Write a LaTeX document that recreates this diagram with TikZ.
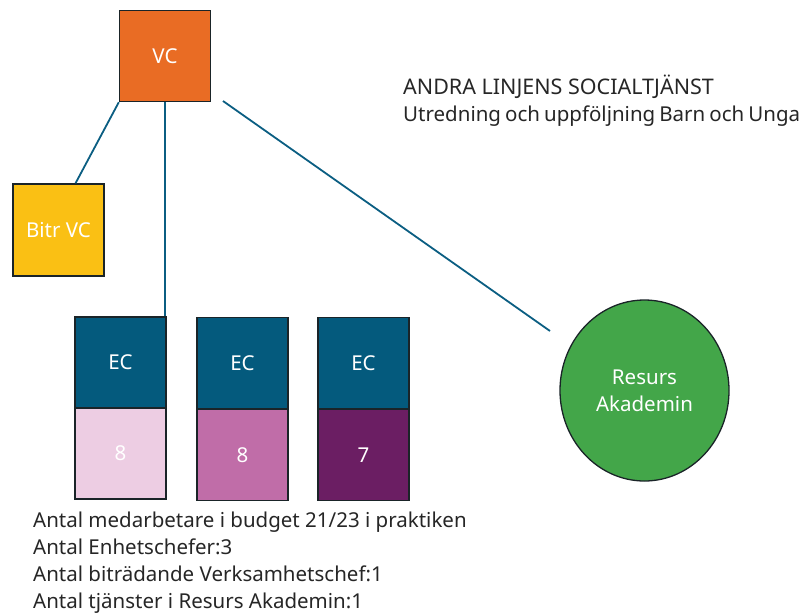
\documentclass[tikz,border=0pt]{standalone}
\usepackage{fontspec}
\setmainfont{Noto Sans}
\usepackage{tikz}
\usetikzlibrary{shapes.geometric}

\definecolor{vcorange}{HTML}{E96C24}
\definecolor{bitryellow}{HTML}{FAC014}
\definecolor{ecblue}{HTML}{045A7D}
\definecolor{linkblue}{HTML}{0B5E82}
\definecolor{edgedark}{HTML}{1A2428}
\definecolor{pinklight}{HTML}{EDCDE3}
\definecolor{pinkmid}{HTML}{C06DA8}
\definecolor{pinkdark}{HTML}{6B1E63}
\definecolor{akagreen}{HTML}{43A649}

\begin{document}
\begin{tikzpicture}[
    x=1pt, y=-1pt,
    % --- box styles ---
    box/.style={draw=edgedark, line width=1.4pt, minimum width=91pt, minimum height=91pt,
                inner sep=0pt, align=center, text=white, font=\fontsize{20.5}{27}\selectfont},
    akabox/.style={ellipse, draw=edgedark, line width=1.3pt, fill=akagreen,
                   minimum width=169pt, minimum height=181pt, inner sep=0pt,
                   align=center, text=white, font=\fontsize{20.5}{27}\selectfont},
    % --- connector style ---
    link/.style={draw=linkblue, line width=1.8pt},
    % --- free text style (anchored at the baseline of the last line) ---
    info/.style={anchor=base west, inner sep=0pt, align=left, text=black!85,
                 font=\fontsize{20.5}{26.7}\selectfont},
]

%% =====================================================================
%%  COORDINATES (px, y down)
%%  VC = (165, 56) | Bitr VC = (58, 230) | EC row = 363 | numbers = 455
%%  Resurs Akademin = (644, 390)
%% =====================================================================
\useasboundingbox (0,0) rectangle (808,614);

%% ---- TOP LEVEL ----
\node[box, fill=vcorange] (vc) at (165, 56) {VC};
\node[box, fill=bitryellow, minimum height=92pt] (bitr) at (58.5, 230) {Bitr VC};

%% ---- ENHETSCHEFER (EC over staff count) ----
\node[box, fill=ecblue] (ec1) at (120.5, 362.5) {EC};
\node[box, fill=pinklight] (n1) at (120.5, 453.5) {8};

\node[box, fill=ecblue] (ec2) at (242.5, 363) {EC};
\node[box, fill=pinkmid] (n2) at (242.5, 455) {8};

\node[box, fill=ecblue] (ec3) at (363.5, 363) {EC};
\node[box, fill=pinkdark] (n3) at (363.5, 455) {7};

%% ---- RESURS AKADEMIN ----
\node[akabox] (ra) at (644.5, 390.5) {Resurs\\Akademin};

%% ---- TEXTS ----
\node[info, font=\fontsize{21.5}{26.7}\selectfont] (title) at (403, 121)
    {ANDRA LINJENS SOCIALTJÄNST\\
     {\fontsize{20.5}{26.7}\selectfont\spaceskip=0.2em Utredning och uppföljning Barn och Unga}};
\node[info] (facts) at (33, 608)
    {Antal medarbetare i budget 21/23 i praktiken\\
     Antal Enhetschefer:3\\
     Antal biträdande Verksamhetschef:1\\
     Antal tjänster i Resurs Akademin:1};

%% =====================================================================
%%  CONNECTORS
%% =====================================================================
\coordinate (vcR) at (223, 101);
\coordinate (raL) at (550, 331);

\draw[link] (vc.south west) -- (bitr.70);
\draw[link] (vc.south) -- (vc.south |- ec1.north);
\draw[link] (vcR) -- (raL);

\end{tikzpicture}
\end{document}
